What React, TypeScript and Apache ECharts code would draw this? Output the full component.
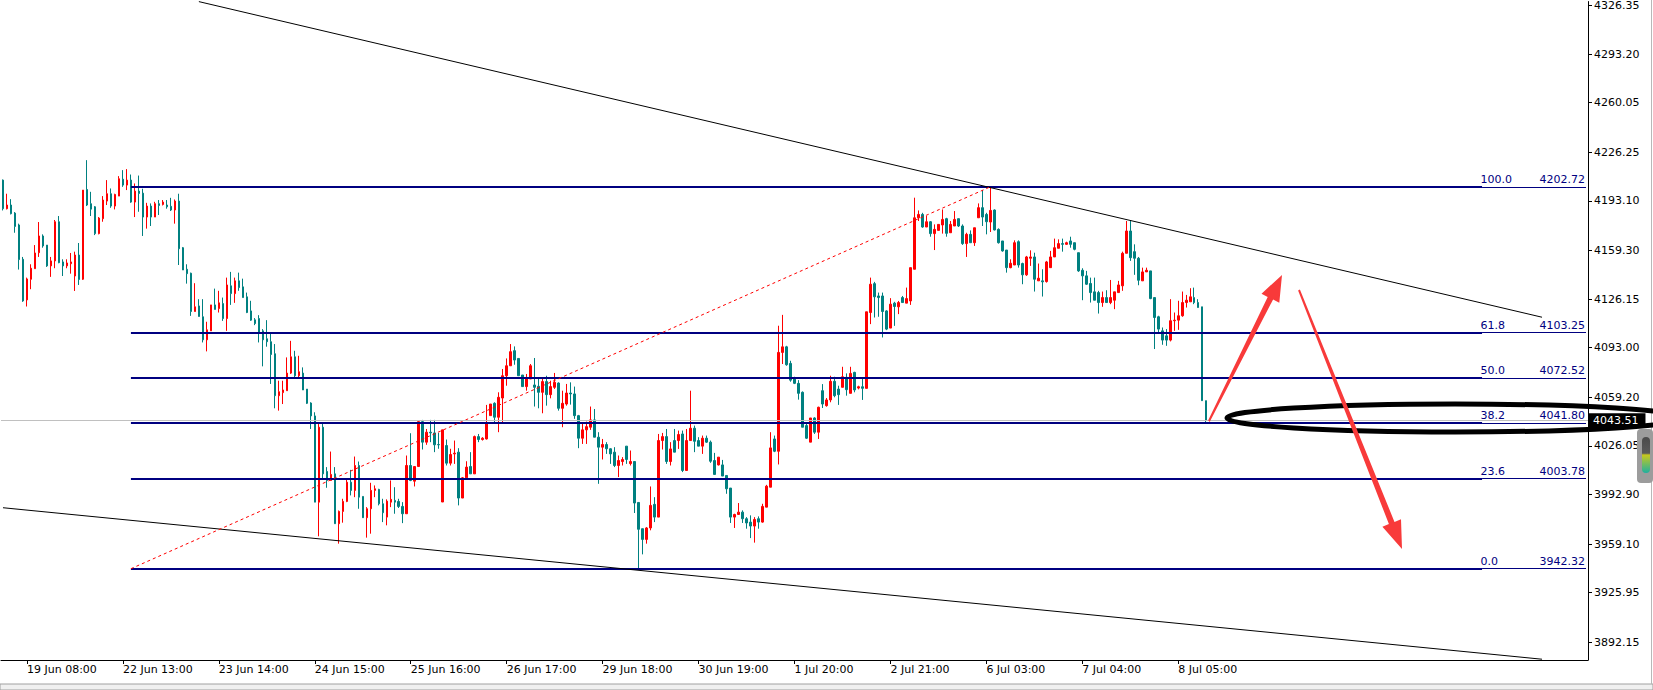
import React, { useEffect, useRef } from 'react';
import * as echarts from 'echarts';

// ---- candle data (H1 bars, oldest first) ----
const open = [
4207.3,4187.8,4190.3,4184.8,4176.7,4153.3,4125.6,4139.7,4146.9,4157.8,
4169.2,4163.0,4148.8,4152.2,4178.9,4151.5,4148.8,4150.3,4141.9,4156.2,
4139.7,4200.9,4191.2,4189.1,4170.8,4181.0,4193.0,4198.0,4189.6,4196.4,
4207.9,4203.9,4207.3,4192.3,4199.8,4198.4,4182.1,4189.6,4182.1,4191.2,
4190.7,4190.3,4189.4,4186.9,4193.0,4161.2,4146.5,4143.8,4117.7,4121.5,
4114.1,4098.4,4104.5,4122.2,4119.7,4123.1,4112.9,4135.2,4129.9,4138.6,
4134.5,4127.7,4118.1,4112.0,4112.9,4104.5,4099.1,4097.1,4088.9,4060.3,
4062.4,4063.7,4075.7,4086.8,4073.9,4075.7,4064.8,4055.3,4046.5,3987.7,
4038.8,4008.6,4002.5,4007.0,3973.0,3981.4,3988.2,4001.3,3995.7,4012.7,
3991.6,3977.1,3983.2,3995.7,3996.4,3986.6,3977.5,3987.7,3988.9,3988.2,
3984.8,3979.8,4012.7,4002.0,4012.0,4042.6,4028.6,4035.4,4034.9,4027.0,
3987.8,4026.3,4014.3,4020.6,4021.8,3990.5,4004.3,4012.0,4007.0,4032.4,
4030.4,4030.8,4046.7,4055.1,4045.6,4058.7,4073.9,4080.7,4091.0,4085.7,
4074.4,4066.5,4071.7,4067.6,4066.7,4062.6,4069.9,4061.0,4066.0,4068.9,
4051.7,4054.6,4062.1,4061.5,4046.7,4031.3,4037.0,4038.8,4043.8,4032.0,
4025.2,4027.0,4024.1,4021.8,4012.7,4015.4,4025.9,4014.0,4015.4,3987.5,
3969.6,3962.3,3970.1,3986.2,3977.5,4029.7,4032.4,4015.4,4029.7,4029.7,
4034.2,4009.3,4029.7,4038.1,4029.7,4025.9,4031.3,4028.6,4016.1,4013.1,
4013.1,4005.9,3997.3,3977.5,3979.3,3980.9,3976.4,3974.1,3971.4,3976.4,
3974.1,3984.3,3997.9,4030.8,4022.4,4089.8,4093.6,4082.3,4071.6,4068.7,
4062.6,4039.9,4028.6,4045.1,4035.4,4063.7,4053.5,4057.4,4070.1,4064.8,
4066.0,4072.8,4061.9,4076.2,4065.5,4066.4,4065.3,4117.0,4136.7,4128.3,
4128.3,4118.1,4106.4,4123.4,4120.9,4127.2,4123.4,4124.9,4146.5,4181.6,
4183.9,4175.3,4178.9,4170.8,4173.0,4176.7,4181.0,4171.4,4176.0,4181.0,
4176.0,4164.0,4170.3,4164.6,4181.6,4188.5,4183.9,4178.7,4186.9,4173.7,
4165.8,4159.6,4147.6,4149.4,4165.3,4150.4,4142.7,4154.0,4154.9,4138.6,
4138.6,4138.1,4147.6,4154.9,4160.8,4164.0,4163.5,4165.8,4164.6,4157.8,
4145.8,4142.0,4136.8,4131.1,4130.6,4123.8,4127.2,4123.8,4125.4,4130.6,
4135.2,4157.4,4172.6,4158.5,4154.0,4138.6,4144.7,4145.4,4127.2,4114.1,
4104.5,4101.1,4098.2,4111.4,4111.8,4114.8,4123.8,4124.3,4127.2,4123.8,
4120.9,4056.9,4043.3
];
const high = [
4207.7,4198.0,4194.3,4185.5,4177.6,4154.9,4140.8,4149.9,4163.0,4178.7,
4170.3,4163.0,4154.9,4180.1,4182.8,4153.3,4153.3,4157.6,4158.5,4164.4,
4200.5,4220.9,4199.3,4189.6,4182.1,4196.4,4207.3,4201.6,4198.0,4210.0,
4214.1,4214.8,4211.1,4205.0,4210.4,4201.4,4191.8,4191.4,4192.5,4193.7,
4193.7,4193.7,4195.2,4194.1,4198.0,4161.7,4149.9,4144.2,4137.0,4126.1,
4126.1,4110.7,4122.2,4133.3,4131.8,4127.2,4140.8,4144.7,4140.8,4144.2,
4140.1,4130.6,4125.0,4113.2,4115.2,4105.7,4111.8,4103.0,4095.5,4070.5,
4070.5,4086.4,4097.7,4090.9,4087.5,4079.6,4064.8,4055.8,4049.0,4042.2,
4041.0,4011.6,4022.2,4011.6,3982.0,3990.0,4003.6,4009.7,4018.8,4015.4,
3991.6,3984.3,4000.9,3999.1,3996.8,3990.0,3989.6,4002.5,3997.9,3990.0,
3987.7,4019.5,4034.7,4012.0,4042.6,4043.8,4037.6,4043.8,4043.8,4034.9,
4037.0,4030.4,4024.1,4029.7,4024.5,4004.8,4015.6,4021.8,4033.1,4034.2,
4032.0,4054.0,4054.6,4055.8,4062.6,4078.5,4085.7,4095.5,4093.9,4085.7,
4074.4,4075.1,4081.9,4086.0,4071.7,4072.8,4073.9,4070.5,4075.8,4069.4,
4063.7,4068.3,4069.4,4066.5,4047.2,4042.2,4042.6,4052.9,4051.2,4035.4,
4030.8,4028.6,4024.5,4025.2,4019.5,4018.4,4025.9,4022.9,4015.4,3987.5,
3969.6,3970.7,3998.4,3991.1,4034.2,4034.9,4037.6,4028.6,4037.6,4036.5,
4036.5,4037.6,4063.7,4039.9,4032.0,4033.1,4033.1,4029.7,4021.3,4018.4,
4016.5,4005.9,3997.3,3979.8,3987.1,3982.1,3977.5,3978.7,3977.5,3978.0,
3986.6,3999.5,4035.4,4033.1,4108.0,4115.4,4094.3,4084.1,4073.2,4070.9,
4063.2,4041.0,4045.1,4045.6,4052.8,4068.2,4058.7,4073.9,4073.2,4067.1,
4080.0,4075.5,4080.0,4076.6,4067.1,4072.8,4117.5,4140.8,4137.9,4130.6,
4130.6,4118.6,4126.8,4124.3,4124.9,4128.3,4134.0,4147.6,4195.3,4186.6,
4185.0,4182.8,4179.4,4177.1,4177.1,4187.3,4181.6,4179.4,4186.2,4181.0,
4177.1,4171.4,4173.0,4174.8,4191.4,4200.5,4185.0,4202.7,4187.3,4174.4,
4165.8,4159.6,4153.3,4166.2,4166.2,4151.0,4155.6,4159.4,4157.8,4150.4,
4146.5,4152.2,4159.0,4167.4,4166.9,4167.4,4165.3,4168.7,4164.6,4157.8,
4147.2,4145.4,4140.8,4140.8,4131.8,4131.3,4132.2,4139.2,4131.1,4138.6,
4158.5,4179.4,4179.4,4163.5,4154.9,4147.6,4147.6,4145.4,4127.2,4114.8,
4106.8,4105.7,4126.1,4117.0,4125.0,4131.3,4129.0,4133.6,4134.0,4126.1,
4120.9,4056.9,4044.4
];
const low = [
4186.6,4187.3,4183.9,4171.4,4146.3,4124.3,4121.1,4132.9,4146.9,4154.9,
4161.2,4148.1,4141.3,4147.2,4150.6,4141.9,4147.2,4143.5,4131.7,4135.8,
4139.2,4189.6,4182.8,4169.8,4170.3,4178.9,4190.3,4188.4,4187.3,4196.4,
4202.7,4200.5,4191.8,4182.1,4185.7,4169.2,4174.2,4176.0,4182.1,4183.5,
4190.0,4187.8,4186.2,4177.6,4149.4,4146.0,4136.7,4114.7,4117.7,4114.3,
4096.6,4090.5,4104.5,4119.1,4117.0,4111.3,4104.5,4122.2,4123.6,4131.8,
4127.2,4116.6,4111.3,4108.4,4096.6,4080.3,4093.7,4068.3,4051.7,4050.1,
4054.6,4063.7,4075.1,4072.8,4072.8,4064.2,4054.6,4037.6,3987.7,3964.4,
4003.6,3997.5,4002.5,3973.0,3959.4,3973.7,3987.7,3992.3,3991.1,3983.2,
3976.9,3963.5,3966.2,3991.1,3985.5,3974.1,3971.9,3984.3,3979.8,3983.7,
3973.4,3979.8,4002.0,3998.4,4012.0,4023.6,4026.8,4028.6,4021.8,4024.1,
3987.8,4012.7,4012.7,4013.8,3985.5,3990.5,4004.3,4007.0,4007.0,4028.6,
4029.7,4030.4,4046.7,4042.2,4035.4,4042.2,4067.1,4080.7,4081.4,4073.9,
4066.5,4063.7,4071.7,4052.9,4051.7,4048.3,4053.5,4058.5,4064.9,4050.1,
4038.8,4053.5,4054.2,4044.5,4024.5,4027.4,4027.4,4037.0,4032.0,4000.2,
4016.8,4020.6,4013.8,4011.6,4004.8,4012.7,4013.8,4012.7,3980.3,3942.8,
3952.1,3959.4,3968.5,3974.1,3977.5,4023.6,4013.8,4012.7,4021.8,4024.0,
4008.2,4009.3,4029.7,4021.8,4025.9,4020.6,4028.1,4014.5,4006.6,4012.7,
4005.5,3993.4,3973.5,3970.1,3979.1,3973.5,3969.6,3963.2,3960.1,3969.6,
3973.7,3984.3,3997.9,4021.8,4013.4,4081.9,4080.7,4069.8,4068.2,4057.6,
4038.8,4030.8,4028.6,4034.2,4030.8,4051.9,4052.8,4055.8,4059.2,4054.0,
4066.0,4060.3,4061.9,4062.6,4064.6,4057.4,4065.3,4109.1,4113.6,4114.1,
4100.0,4105.0,4106.4,4107.9,4115.9,4123.8,4123.4,4122.2,4146.5,4179.4,
4174.8,4175.3,4168.7,4159.6,4173.0,4170.8,4168.7,4171.4,4176.0,4175.3,
4163.1,4154.9,4164.6,4162.4,4181.6,4176.0,4170.3,4171.9,4173.0,4164.0,
4158.5,4144.2,4147.2,4149.4,4147.6,4136.3,4142.0,4148.8,4131.3,4138.6,
4127.9,4137.4,4147.6,4154.9,4160.8,4158.5,4163.1,4161.2,4159.4,4144.7,
4125.4,4135.8,4123.8,4125.4,4116.3,4120.9,4123.8,4122.7,4119.3,4130.6,
4131.8,4157.4,4152.2,4142.7,4135.6,4138.6,4144.7,4126.1,4092.1,4103.4,
4095.0,4094.3,4097.3,4104.5,4105.2,4114.1,4120.4,4124.3,4122.7,4120.4,
4056.9,4041.5,4042.8
];
const close = [
4187.8,4190.3,4184.4,4175.7,4153.1,4124.9,4139.9,4147.2,4157.6,4169.2,
4162.4,4148.8,4152.2,4178.9,4151.0,4148.8,4150.8,4151.5,4156.2,4139.5,
4200.5,4190.3,4187.5,4170.8,4181.4,4193.7,4198.0,4189.6,4197.5,4208.2,
4203.9,4207.3,4192.3,4199.8,4198.2,4182.1,4189.6,4182.1,4191.2,4190.0,
4192.3,4189.1,4186.9,4193.0,4160.5,4146.0,4143.5,4117.7,4120.9,4114.3,
4098.4,4105.2,4122.2,4119.1,4123.6,4112.9,4135.8,4129.9,4138.6,4134.0,
4127.2,4117.0,4111.8,4109.5,4103.4,4098.4,4097.1,4088.4,4060.3,4063.0,
4064.2,4075.7,4086.8,4073.9,4076.6,4064.2,4055.1,4046.5,3987.7,4038.8,
4007.0,4002.5,4006.6,3973.0,3981.4,3988.2,4001.3,3995.7,4012.7,3991.1,
3977.1,3983.2,3995.7,3996.8,3986.6,3980.5,3988.4,3989.6,3987.7,3984.8,
3979.8,4012.7,4002.5,4012.0,4042.6,4028.6,4035.4,4034.9,4026.8,4026.8,
4037.0,4014.3,4020.2,4021.1,3990.5,4004.3,4011.6,4007.0,4032.4,4030.4,
4031.3,4041.0,4054.6,4045.6,4059.2,4073.9,4080.7,4090.3,4084.6,4073.9,
4066.5,4071.7,4080.7,4066.0,4062.6,4069.9,4061.0,4066.5,4069.4,4051.7,
4055.1,4062.1,4061.5,4046.7,4031.3,4037.0,4039.2,4043.8,4032.0,4025.2,
4027.0,4024.1,4020.6,4012.7,4016.1,4016.8,4016.8,4015.4,3987.1,3969.2,
3962.3,3970.1,3985.5,3977.5,4029.7,4032.4,4015.4,4024.0,4021.8,4033.8,
4009.3,4029.7,4038.1,4029.2,4025.9,4031.3,4028.6,4015.6,4006.6,4018.4,
4005.5,3996.8,3977.5,3979.3,3980.9,3976.4,3973.5,3971.4,3975.9,3974.1,
3984.8,3998.6,4024.7,4022.4,4089.8,4093.6,4081.4,4070.9,4068.7,4061.9,
4038.8,4031.3,4045.1,4035.4,4052.4,4054.6,4057.4,4070.1,4060.3,4061.0,
4073.2,4064.4,4075.5,4064.2,4066.4,4065.3,4117.5,4136.3,4127.7,4127.2,
4117.7,4105.7,4122.7,4121.1,4123.8,4123.8,4126.5,4147.6,4181.6,4183.9,
4175.3,4178.9,4170.8,4173.7,4177.1,4180.5,4171.0,4177.1,4180.5,4176.0,
4164.0,4170.3,4164.6,4174.8,4188.5,4182.1,4178.9,4186.6,4173.3,4164.6,
4159.0,4147.6,4150.6,4164.6,4149.4,4142.7,4154.9,4154.9,4139.7,4140.4,
4137.9,4151.5,4154.9,4161.2,4164.0,4163.5,4164.6,4163.5,4160.1,4145.4,
4142.0,4136.3,4130.6,4125.4,4123.8,4127.2,4123.8,4127.2,4131.1,4135.8,
4157.4,4172.6,4154.4,4154.0,4139.0,4144.7,4145.8,4126.5,4113.6,4105.7,
4098.2,4098.2,4111.4,4111.8,4114.8,4123.8,4125.4,4127.7,4123.8,4120.4,
4056.9,4043.3,4043.51
];

// ---- axes ----
const totalSlots = 397; // bars + empty space on the right
const timeLabels = [
  '19 Jun 08:00', '22 Jun 13:00', '23 Jun 14:00', '24 Jun 15:00', '25 Jun 16:00',
  '26 Jun 17:00', '29 Jun 18:00', '30 Jun 19:00', '1 Jul 20:00', '2 Jul 21:00',
  '6 Jul 03:00', '7 Jul 04:00', '8 Jul 05:00',
];
const firstLabelBar = 6;
const barsPerLabel = 24;
const priceTicks = [
  3892.15, 3925.95, 3959.10, 3992.90, 4026.05, 4059.20, 4093.00,
  4126.15, 4159.30, 4193.10, 4226.25, 4260.05, 4293.20, 4326.35,
];
const yMin = 3880.07;
const yMax = 4329.05;

// ---- objects on the chart ----
const fibPercents = ['100.0', '61.8', '50.0', '38.2', '23.6', '0.0'];
const fibPrices = [4202.72, 4103.25, 4072.52, 4041.80, 4003.78, 3942.32];
const fibStartBar = 32;
const fibTextBar = 370;
const lastSlot = 396;
const currentPrice = 4043.51;
const upperTrend = [[49, 4329.0], [385, 4113.8]];
const lowerTrend = [[0, 3983.9], [385, 3880.6]];
const fibAnchorLine = [[32, 3942.32], [247, 4202.72]];

const FONT = 'DejaVu Sans';
const NAVY = '#000080';

export default function App() {
  const ref = useRef<HTMLDivElement>(null);
  useEffect(() => {
    if (!ref.current) return;
    const chart = echarts.init(ref.current, undefined, { renderer: 'svg' });
    const categories = Array.from({ length: totalSlots }, (_, i) => {
      const k = (i - firstLabelBar) / barsPerLabel;
      return Number.isInteger(k) && k >= 0 && k < timeLabels.length ? timeLabels[k] : ' ' + i;
    });
    const isLabel = (i: number) => {
      const k = (i - firstLabelBar) / barsPerLabel;
      return Number.isInteger(k) && k >= 0 && k < timeLabels.length;
    };
    const candles = open.map((o, i) => [o, close[i], low[i], high[i]]);

    const markData: any[] = [];
    fibPrices.forEach((p, k) => {
      markData.push([
        { coord: [fibStartBar, p], lineStyle: { color: NAVY, width: 2, type: 'solid' } },
        { coord: [fibTextBar, p] },
      ]);
      markData.push([
        {
          coord: [fibTextBar, p],
          lineStyle: { color: NAVY, width: 1, type: 'solid' },
          label: {
            show: true,
            position: 'insideEndTop',
            distance: [1, 2],
            formatter: '{a|' + fibPercents[k] + '}{b|' + p.toFixed(2) + '}',
            rich: {
              a: { width: 59, align: 'left', color: NAVY, fontSize: 11, fontFamily: FONT },
              b: { color: NAVY, fontSize: 11, fontFamily: FONT },
            },
          },
        },
        { coord: [lastSlot, p] },
      ]);
    });
    markData.push([
      { coord: upperTrend[0], lineStyle: { color: '#000', width: 1, type: 'solid' } },
      { coord: upperTrend[1] },
    ]);
    markData.push([
      { coord: lowerTrend[0], lineStyle: { color: '#000', width: 1, type: 'solid' } },
      { coord: lowerTrend[1] },
    ]);
    markData.push([
      { coord: fibAnchorLine[0], lineStyle: { color: '#ff0000', width: 1, type: [3, 3] } },
      { coord: fibAnchorLine[1] },
    ]);
    markData.push({
      yAxis: currentPrice,
      lineStyle: { color: '#c0c0c0', width: 1, type: 'solid' },
      label: {
        show: true,
        position: 'end',
        distance: 1,
        formatter: currentPrice.toFixed(2),
        color: '#fff',
        backgroundColor: '#000',
        fontSize: 11,
        fontFamily: FONT,
        padding: [2, 7, 1, 4],
      },
    });

    chart.setOption({
      animation: false,
      backgroundColor: '#ffffff',
      textStyle: { fontFamily: FONT },
      grid: { left: 1, right: 65, top: 0, bottom: 30, containLabel: false },
      xAxis: {
        type: 'category',
        data: categories,
        boundaryGap: true,
        axisLine: { show: true, lineStyle: { color: '#000', width: 1 } },
        axisTick: {
          show: true,
          alignWithLabel: true,
          length: 4,
          interval: (i: number) => isLabel(i),
          lineStyle: { color: '#000' },
        },
        axisLabel: {
          interval: (i: number) => isLabel(i),
          align: 'left',
          margin: 4,
          color: '#000',
          fontSize: 11,
          fontFamily: FONT,
        },
        splitLine: { show: false },
      },
      yAxis: {
        type: 'value',
        position: 'right',
        min: yMin,
        max: yMax,
        axisLine: { show: true, lineStyle: { color: '#000', width: 1 } },
        axisTick: { show: true, length: 4, customValues: priceTicks, lineStyle: { color: '#000' } },
        axisLabel: {
          customValues: priceTicks,
          formatter: (v: number) => v.toFixed(2),
          color: '#000',
          fontSize: 11,
          fontFamily: FONT,
          margin: 6,
        },
        splitLine: { show: false },
      },
      series: [
        {
          type: 'candlestick',
          data: candles,
          barWidth: 2,
          itemStyle: {
            color: '#ff0000',
            color0: '#008080',
            borderColor: '#ff0000',
            borderColor0: '#008080',
            borderColorDoji: '#008080',
            borderWidth: 1,
          },
          emphasis: { disabled: true },
          markLine: {
            silent: true,
            symbol: ['none', 'none'],
            animation: false,
            label: { show: false },
            emphasis: { disabled: true },
            data: markData,
          },
        },
      ],
      graphic: [
        {
          type: 'ellipse',
          z: 100,
          shape: { cx: 1455, cy: 418, rx: 228, ry: 14 },
          style: { fill: 'none', stroke: '#000', lineWidth: 5 },
        },
        {
          type: 'polygon',
          z: 101,
          shape: {
            points: [
              [1208.1, 420.6], [1267.7, 296.9], [1261.5, 293.7], [1282, 275],
              [1279.3, 302.7], [1273.1, 299.5], [1209.9, 421.4],
            ],
          },
          style: { fill: '#f83a3a' },
        },
        {
          type: 'polygon',
          z: 101,
          shape: {
            points: [
              [1298.1, 290.4], [1388.9, 524.1], [1382.4, 526.7], [1402, 549],
              [1401.0, 519.3], [1394.5, 521.9], [1299.9, 289.6],
            ],
          },
          style: { fill: '#f83a3a' },
        },
        {
          type: 'rect',
          z: 102,
          shape: { x: 1637, y: 429, width: 16, height: 54, r: 4 },
          style: { fill: '#9c9c9c' },
        },
        {
          type: 'rect',
          z: 103,
          shape: { x: 1642, y: 437, width: 8, height: 36, r: 4 },
          style: {
            fill: new echarts.graphic.LinearGradient(0, 0, 0, 1, [
              { offset: 0, color: '#4a4a4a' },
              { offset: 0.45, color: '#5a5a5a' },
              { offset: 0.5, color: '#c8c81e' },
              { offset: 1, color: '#1fb0a0' },
            ]),
          },
        },
        {
          type: 'rect',
          z: 90,
          shape: { x: 0, y: 684, width: 1653, height: 6 },
          style: { fill: '#f0f0f0', stroke: '#a0a0a0', lineWidth: 1 },
        },
        {
          type: 'line',
          z: 90,
          shape: { x1: 1651.5, y1: 0, x2: 1651.5, y2: 684 },
          style: { stroke: '#b8b8b8', lineWidth: 1 },
        },
      ],
    });
    return () => chart.dispose();
  }, []);
  return (
    <div
      ref={ref}
      style={{ position: 'fixed', left: 0, top: 0, width: 1653, height: 690, background: '#fff' }}
    />
  );
}
